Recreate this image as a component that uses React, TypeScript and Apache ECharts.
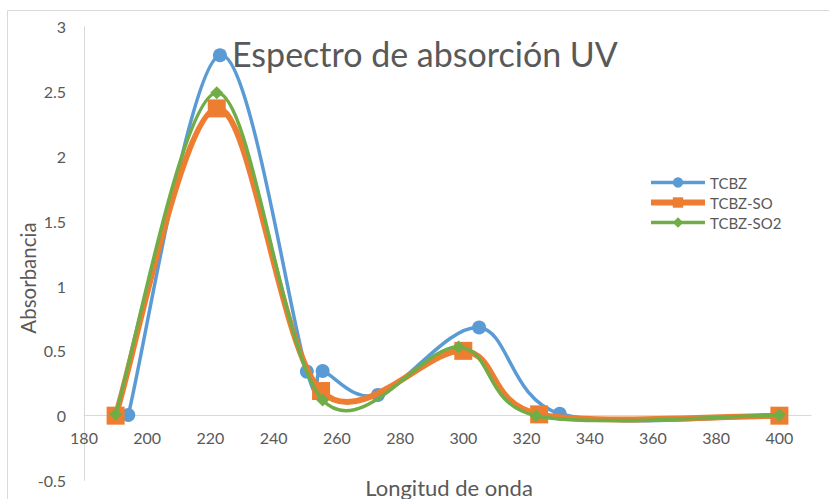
import React, { useEffect, useRef } from "react";
import * as echarts from "echarts";

// Spectra: wavelength (nm) and absorbance for each sample
const seriesNames = ["TCBZ", "TCBZ-SO", "TCBZ-SO2"];
const tcbzWavelength = [194, 223, 250.5, 255.5, 273, 305, 330.5, 400];
const tcbzAbsorbance = [0.005, 2.78, 0.34, 0.345, 0.16, 0.68, 0.015, 0];
const tcbzSoWavelength = [190, 222, 255, 300, 324, 400];
const tcbzSoAbsorbance = [0, 2.37, 0.19, 0.5, 0.01, 0];
const tcbzSo2Wavelength = [190, 222, 255.5, 298.5, 323, 400];
const tcbzSo2Absorbance = [0.01, 2.49, 0.12, 0.53, 0, 0.005];

const xMin = 180;
const xMax = 410;
const xStep = 20;
const yMin = -0.5;
const yMax = 3;
const yStep = 0.5;

const titleText = "Espectro de absorción UV";
const xAxisTitle = "Longitud de onda";
const yAxisTitle = "Absorbancia";

const colors = ["#5B9BD5", "#ED7D31", "#70AD47"];
const textColor = "#595959";
const axisColor = "#D9D9D9";
const font = "Lato, 'Noto Sans', sans-serif";

const lineWidths = [3.5, 6, 3.5];
const symbols = ["circle", "rect", "diamond"];
const symbolSizes = [14, 18, 13];

const width = 829;
const height = 499;
const gridTop = 26.7;
const gridBottom = 18.5;

const pairs = (xs: number[], ys: number[]) => xs.map((x, i) => [x, ys[i]]);

// Catmull-Rom style cubic Bezier through the projected points
function smoothPath(pts: number[][]): string {
  if (pts.length < 2) return "";
  let d = `M${pts[0][0]},${pts[0][1]}`;
  for (let i = 0; i < pts.length - 1; i++) {
    const p0 = pts[i - 1] || pts[i];
    const p1 = pts[i];
    const p2 = pts[i + 1];
    const p3 = pts[i + 2] || p2;
    const c1x = p1[0] + (p2[0] - p0[0]) / 6;
    const c1y = p1[1] + (p2[1] - p0[1]) / 6;
    const c2x = p2[0] - (p3[0] - p1[0]) / 6;
    const c2y = p2[1] - (p3[1] - p1[1]) / 6;
    d += ` C${c1x},${c1y} ${c2x},${c2y} ${p2[0]},${p2[1]}`;
  }
  return d;
}

export default function App() {
  const ref = useRef<HTMLDivElement>(null);

  useEffect(() => {
    if (!ref.current) return;
    const chart = echarts.init(ref.current, undefined, { renderer: "svg" });

    const dataSets = [
      pairs(tcbzWavelength, tcbzAbsorbance),
      pairs(tcbzSoWavelength, tcbzSoAbsorbance),
      pairs(tcbzSo2Wavelength, tcbzSo2Absorbance),
    ];

    // the wavelength axis crosses the absorbance axis at 0
    const plotHeight = height - gridTop - gridBottom;
    const zeroOffset = -((0 - yMin) / (yMax - yMin)) * plotHeight;

    // smooth curve of each spectrum, drawn under its markers
    const curveSeries = dataSets.map((data, i) => ({
      name: `${seriesNames[i]} curve`,
      type: "custom",
      coordinateSystem: "cartesian2d",
      data: [data[0]],
      z: 2 + 2 * i,
      silent: true,
      renderItem: (_params: any, api: any) => {
        const pts = data.map((p) => api.coord(p));
        return {
          type: "path",
          shape: { pathData: smoothPath(pts) },
          style: {
            fill: "none",
            stroke: colors[i],
            lineWidth: lineWidths[i],
            lineCap: "round",
            lineJoin: "round",
          },
        };
      },
    }));

    // markers of each spectrum
    const markerSeries = dataSets.map((data, i) => ({
      name: seriesNames[i],
      type: "line",
      data,
      symbol: symbols[i],
      symbolSize: symbolSizes[i],
      showAllSymbol: true,
      lineStyle: { width: lineWidths[i], color: colors[i], opacity: 0 },
      itemStyle: { color: colors[i] },
      z: 3 + 2 * i,
    }));

    chart.setOption({
      animation: false,
      backgroundColor: "#FFFFFF",
      color: colors,
      textStyle: { fontFamily: font },
      grid: {
        left: 84,
        top: gridTop,
        right: 18,
        bottom: gridBottom,
        containLabel: false,
        outerBoundsMode: "none",
      },
      title: {
        text: titleText,
        left: 227,
        top: 31,
        textStyle: { color: textColor, fontSize: 34, fontWeight: "normal", fontFamily: font },
      },
      legend: {
        orient: "vertical",
        left: 643,
        top: 170,
        itemWidth: 54,
        itemHeight: 13,
        itemGap: 5,
        data: seriesNames.map((name, i) => ({
          name,
          lineStyle: { color: colors[i], width: lineWidths[i], opacity: 1 },
        })),
        textStyle: { color: textColor, fontSize: 15, fontFamily: font },
      },
      xAxis: {
        type: "value",
        min: xMin,
        max: xMax,
        interval: xStep,
        offset: zeroOffset,
        axisLine: { onZero: false, lineStyle: { color: axisColor, width: 1 } },
        axisTick: { show: false },
        splitLine: { show: false },
        axisLabel: { color: textColor, fontSize: 16, margin: 14, showMaxLabel: false, fontFamily: font },
      },
      yAxis: {
        type: "value",
        min: yMin,
        max: yMax,
        interval: yStep,
        axisLine: { show: true, lineStyle: { color: axisColor, width: 1 } },
        axisTick: { show: false },
        splitLine: { show: false },
        axisLabel: { color: textColor, fontSize: 16, margin: 18, fontFamily: font },
      },
      graphic: [
        {
          type: "rect",
          shape: { x: 7.5, y: 10.5, width: 900, height: 600 },
          style: { fill: "none", stroke: axisColor, lineWidth: 1 },
          silent: true,
        },
        {
          type: "text",
          x: 449,
          y: 487,
          style: {
            text: xAxisTitle,
            fill: textColor,
            font: `22px ${font}`,
            align: "center",
            verticalAlign: "middle",
          },
        },
        {
          type: "text",
          x: 28,
          y: 278,
          rotation: Math.PI / 2,
          style: {
            text: yAxisTitle,
            fill: textColor,
            font: `20.5px ${font}`,
            align: "center",
            verticalAlign: "middle",
          },
        },
      ],
      series: [...curveSeries, ...markerSeries],
    });

    return () => chart.dispose();
  }, []);

  return (
    <div
      ref={ref}
      style={{ position: "fixed", left: 0, top: 0, width, height }}
    />
  );
}
